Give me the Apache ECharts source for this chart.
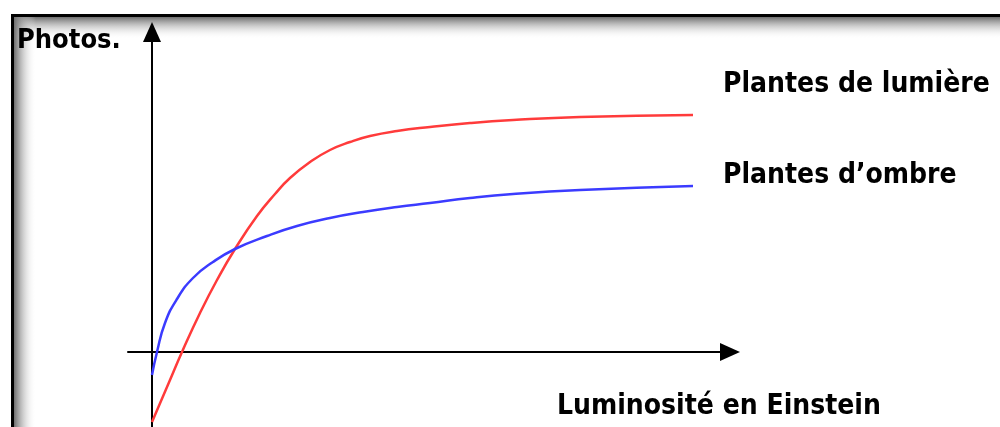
<!DOCTYPE html>
<html>
<head>
<meta charset="utf-8">
<script src="https://cdn.jsdelivr.net/npm/echarts@6/dist/echarts.min.js"></script>
<style>
  html, body { margin: 0; padding: 0; background: #fff; }
  #main { width: 1000px; height: 427px; }
</style>
</head>
<body>
<div id="main"></div>
<script>
// arbitrary units (x: luminosité, y: photosynthèse)
var lumiereX = [0, 18, 30, 48, 65, 83, 105, 123, 138, 158, 178, 198, 218, 245, 278, 318, 361, 428, 541];
var lumiereY = [-70, -28, 0, 39, 72, 103, 136, 158, 174, 190, 202, 210, 216, 221, 225, 229, 232, 235, 237];
var ombreX = [0, 5, 13, 25, 41, 61, 83, 115, 145, 178, 211, 245, 278, 318, 361, 428, 541];
var ombreY = [-23, 0, 29, 53, 74, 90, 103, 116, 126, 134, 140, 145, 149, 154, 158, 162, 166];
var seriesNames = ['Plantes de lumière', 'Plantes d\u2019ombre'];
var xTitle = 'Luminosité en Einstein';
var yTitle = 'Photos.';

var font = '"DejaVu Sans Condensed", "DejaVu Sans", sans-serif';

function pairs (xs, ys) {
  var out = [];
  for (var i = 0; i < xs.length; i++) out.push([xs[i], ys[i]]);
  return out;
}

var myChart = echarts.init(document.getElementById('main'));
var axisLine = {
  show: true,
  onZero: true,
  symbol: ['none', 'triangle'],
  symbolSize: [18, 20],
  lineStyle: { color: '#000', width: 2 }
};
var option = {
  animation: false,
  backgroundColor: '#fff',
  grid: { left: 128, right: 270, top: 32, bottom: 0 },
  xAxis: {
    type: 'value', min: -24, max: 578,
    axisLine: axisLine,
    axisTick: { show: false }, axisLabel: { show: false }, splitLine: { show: false }
  },
  yAxis: {
    type: 'value', min: -75, max: 320,
    axisLine: axisLine,
    axisTick: { show: false }, axisLabel: { show: false }, splitLine: { show: false }
  },
  graphic: [
    {
      type: 'rect', z: -10, silent: true,
      shape: { x: 14, y: 17, width: 990, height: 22 },
      style: { fill: new echarts.graphic.LinearGradient(0, 0, 0, 1, [
        { offset: 0, color: 'rgba(110,110,110,1)' },
        { offset: 1, color: 'rgba(255,255,255,0)' }
      ]) }
    },
    {
      type: 'rect', z: -10, silent: true,
      shape: { x: 14, y: 17, width: 22, height: 420 },
      style: { fill: new echarts.graphic.LinearGradient(0, 0, 1, 0, [
        { offset: 0, color: 'rgba(110,110,110,1)' },
        { offset: 1, color: 'rgba(255,255,255,0)' }
      ]) }
    },
    {
      type: 'rect', z: -5, silent: true,
      shape: { x: 12.5, y: 15.5, width: 1000, height: 500 },
      style: { fill: 'none', stroke: '#000', lineWidth: 3 }
    },
    {
      type: 'text', left: 17, top: 27,
      style: { text: yTitle, font: 'bold 27px ' + font, fill: '#000' }
    },
    {
      type: 'text', left: 557, top: 393,
      style: { text: xTitle, font: 'bold 28px ' + font, fill: '#000' }
    }
  ],
  series: [
    {
      name: seriesNames[0],
      type: 'line',
      smooth: true,
      symbol: 'none',
      data: pairs(lumiereX, lumiereY),
      lineStyle: { color: '#ff3b3b', width: 2.5 },
      endLabel: {
        show: true, formatter: '{a}', distance: 0, offset: [30, -30],
        color: '#000', fontSize: 28, fontWeight: 'bold', fontFamily: font
      }
    },
    {
      name: seriesNames[1],
      type: 'line',
      smooth: true,
      symbol: 'none',
      data: pairs(ombreX, ombreY),
      lineStyle: { color: '#3b3bff', width: 2.5 },
      endLabel: {
        show: true, formatter: '{a}', distance: 0, offset: [30, -10],
        color: '#000', fontSize: 28, fontWeight: 'bold', fontFamily: font
      }
    }
  ]
};
myChart.setOption(option);
</script>
</body>
</html>
